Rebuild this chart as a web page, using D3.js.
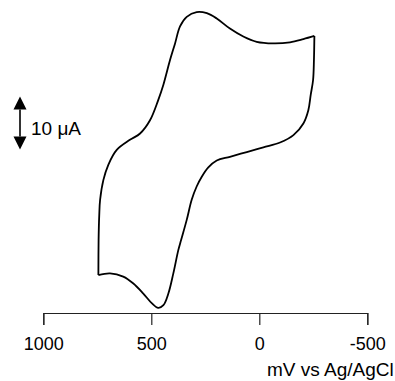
<!DOCTYPE html>
<!-- cyclic voltammogram, drawn with d3: one closed loop, bottom potential axis, 10 uA scale bar -->
<html>
<head>
<meta charset="utf-8">
<style>
  body { margin: 0; background: #fff; }
  text { font-family: "Liberation Sans", Arial, Helvetica, sans-serif; fill: #000; }
</style>
</head>
<body>
<div id="graph_div"></div>

<script src="https://d3js.org/d3.v7.min.js"></script>

<script>

// data (potential in mV, current in uA, zero current arbitrary)
let forward_mv = [-255, -253, -249, -238, -227, -204, -158, -96, -19, 58, 136, 197, 236, 267, 290, 313,
                  336, 362, 375, 398, 421, 444, 468, 498, 537, 583, 630, 691, 745];
let forward_ua = [23.4, 18.9, 15.1, 12.3, 9.4, 6.9, 4.7, 3.3, 2.4, 1.5, 0.6, -0.1, -1.4, -3.2, -5.0, -7.5,
                  -11.3, -15.1, -17.0, -21.4, -25.2, -27.4, -27.9, -27.0, -25.2, -23.3, -22.0, -21.4, -21.7];

let reverse_mv = [745, 744, 741, 737, 722, 699, 660, 599, 552, 506, 468, 444, 413, 390, 367, 336, 290,
                  243, 197, 136, 74, 12, -65, -142, -204, -255];
let reverse_ua = [-21.7, -15.1, -10.4, -7.5, -3.8, -0.9, 1.9, 3.8, 5.0, 7.5, 11.3, 14.2, 18.9, 22.0,
                  25.2, 27.0, 27.9, 27.7, 26.7, 24.8, 23.3, 22.3, 22.0, 22.2, 22.8, 23.4];

let x_ticks = [1000, 500, 0, -500];
let x_title = "mV vs Ag/AgCl";
let bar_from = 2, bar_size = 10;   // scale bar, uA
let bar_label = "10 \u03bcA";

let width = 395, height = 381;

let svg = d3.select("#graph_div")
  .append("svg")
    .attr("width", width)
    .attr("height", height);

// scales
let x = d3.scaleLinear()
  .domain([1000, -500])
  .range([43.3, 367.3]);

let y = d3.scaleLinear()
  .domain([-30, 30])
  .range([319, 1]);

// potential axis (plain hyphen minus, like the original)
let x_axis = svg.append("g")
    .attr("transform", "translate(0,313)")
    .call(d3.axisBottom(x)
      .tickValues(x_ticks)
      .tickFormat(function(d){ return String(d) })
      .tickSize(12)
      .tickSizeOuter(12)
      .tickPadding(12));

x_axis.select(".domain").attr("stroke", "#222").attr("stroke-width", 1.2);
x_axis.selectAll(".tick line").attr("stroke", "#222").attr("stroke-width", 1.2);
x_axis.selectAll(".tick text")
    .attr("font-size", 18)
    .attr("font-family", "'Liberation Sans', Arial, sans-serif")
    .attr("fill", "#000");

svg.append("text")
    .attr("x", 267)
    .attr("y", 375.5)
    .attr("font-size", 19)
    .text(x_title);

// the voltammogram, two sweeps so the turning points stay sharp
let line = d3.line()
  .x(function(d){ return x(d[0]) })
  .y(function(d){ return y(d[1]) })
  .curve(d3.curveCatmullRom.alpha(0.5));

let sweeps = [
  d3.zip(forward_mv, forward_ua),
  d3.zip(reverse_mv, reverse_ua)
];

svg.selectAll(".sweep")
  .data(sweeps)
  .enter()
  .append("path")
    .attr("class", "sweep")
    .attr("d", line)
    .attr("fill", "none")
    .attr("stroke", "#000")
    .attr("stroke-width", 1.8)
    .attr("stroke-linejoin", "round");

// current scale bar
let bar_x = 20,
    bar_top = y(bar_from + bar_size),
    bar_bot = y(bar_from),
    head = 13;

svg.append("line")
    .attr("x1", bar_x).attr("x2", bar_x)
    .attr("y1", bar_top + head).attr("y2", bar_bot - head)
    .attr("stroke", "#000")
    .attr("stroke-width", 1.6);

svg.append("path")
    .attr("d", "M" + bar_x + "," + bar_top + "L" + (bar_x + 6.5) + "," + (bar_top + head) +
               "L" + (bar_x - 6.5) + "," + (bar_top + head) + "Z")
    .attr("fill", "#000");

svg.append("path")
    .attr("d", "M" + bar_x + "," + bar_bot + "L" + (bar_x + 6.5) + "," + (bar_bot - head) +
               "L" + (bar_x - 6.5) + "," + (bar_bot - head) + "Z")
    .attr("fill", "#000");

svg.append("text")
    .attr("x", 31)
    .attr("y", 135)
    .attr("font-size", 19)
    .text(bar_label);

</script>
</body>
</html>
